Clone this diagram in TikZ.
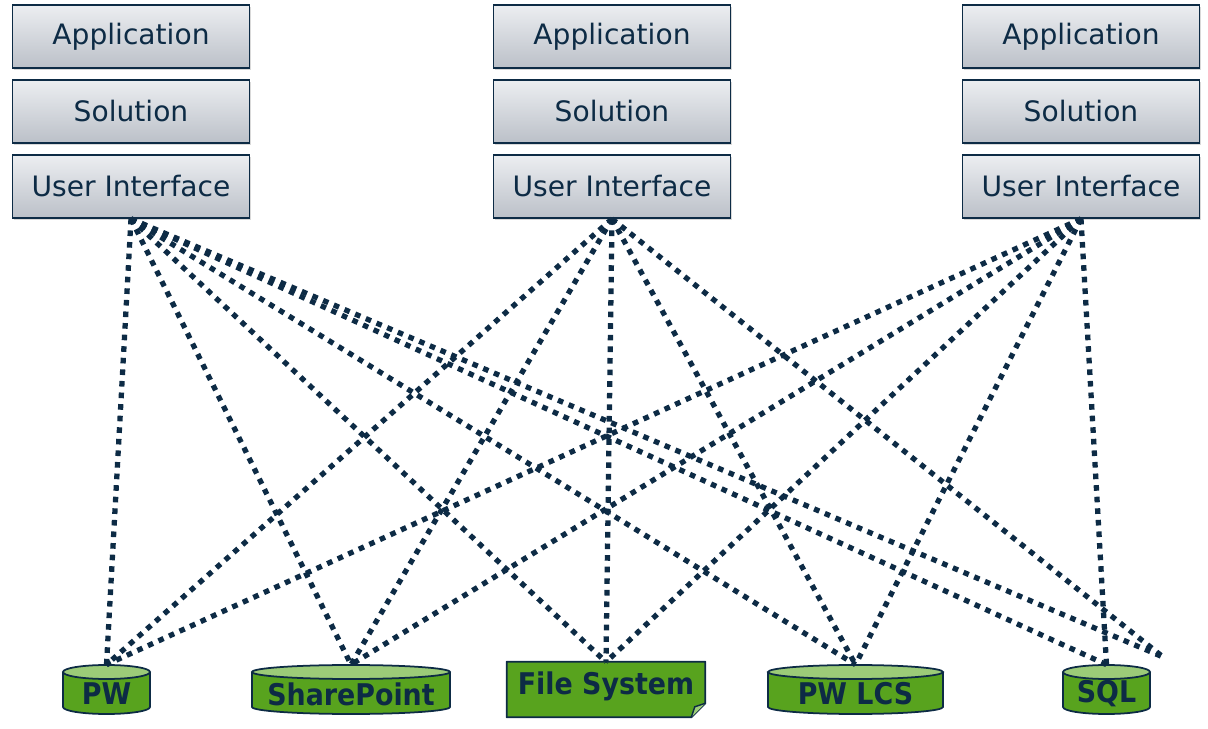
\documentclass[tikz,border=0pt]{standalone}
\usepackage{fontspec}
\setmainfont{DejaVu Sans}
\newfontfamily\cond{DejaVu Sans Condensed}
\usetikzlibrary{positioning, shapes.geometric, shadows}
\definecolor{navy}{HTML}{0D2B45}
\definecolor{leaf}{HTML}{58A31E}
\definecolor{leaflight}{HTML}{9CCB78}
\definecolor{paletop}{HTML}{ECEEF1}
\definecolor{palebot}{HTML}{BBC0C8}
\tikzset{
  layer/.style={draw=navy, line width=1pt, top color=paletop, bottom color=palebot,
    minimum width=4.74cm, minimum height=1.26cm, text=navy, font=\fontsize{16}{18}\selectfont,
    drop shadow={opacity=0.3, shadow xshift=1pt, shadow yshift=-1pt}},
  store/.style={minimum height=0.98cm, inner sep=0pt, text=navy,
    font=\cond\bfseries\fontsize{17}{19}\selectfont},
  link/.style={navy, line width=3pt, dash pattern=on 3.2pt off 3.4pt}
}
\begin{document}
\begin{tikzpicture}[x=0.02cm, y=-0.02cm]
  \useasboundingbox (0,0) rectangle (1208,729);
  % three stacks
  \foreach \n/\x in {l/131, m/612, r/1081} {
    \node [layer] (app\n) at (\x, 36.5) {Application};
    \node [layer] (sol\n) at (\x, 111.5) {Solution};
    \node [layer] (ui\n) at (\x, 186.5) {User Interface};
  }

  % data stores
  \foreach \s/\x/\w/\t in {pw/106.5/43.5/PW, sp/351/99/SharePoint, lcs/855.5/87.5/PW LCS, sql/1106.5/43.5/SQL} {
    \filldraw [fill=leaf, draw=navy, line width=1pt] (\x-\w, 672) -- (\x-\w, 707)
      arc [start angle=180, end angle=0, x radius=\w, y radius=7] -- (\x+\w, 672);
    \draw [fill=leaflight, draw=navy, line width=1pt] (\x, 672) ellipse [x radius=\w, y radius=7];
    \node [store, minimum width=2*\w*0.02cm, minimum height=0.98cm] (\s) at (\x, 689.5) {};
    \node [store] at (\x, 694) {\t};
  }
  \node [store, minimum width=3.96cm, minimum height=1.1cm] (fs) at (606, 689.5) {};
  \fill [leaf] (fs.north west) -- (fs.north east) -- ([yshift=8pt]fs.south east)
    -- ([xshift=-8pt]fs.south east) -- (fs.south west) -- cycle;
  \draw [navy, line width=1pt, line join=round] (fs.north west) -- (fs.north east)
    -- ([yshift=8pt]fs.south east) -- ([xshift=-8pt]fs.south east) -- (fs.south west) -- cycle;
  \draw [navy, line width=0.8pt, fill=leaflight] ([yshift=8pt]fs.south east) -- ([xshift=-6pt, yshift=6pt]fs.south east)
    -- ([xshift=-8pt]fs.south east);
  \node [store] at (606, 686) {File System};
  \coordinate (loose) at (1163, 657);
  \coordinate (fstop) at (606, 662);

  \foreach \s in {pw, sp, lcs, sql} \draw [link] (uil.south) -- (\s.north);
  \draw [link] (uil.south) -- (fstop);
  \draw [link] (uil.south) -- (loose);
  \foreach \s in {pw, sp, lcs} \draw [link] (uim.south) -- (\s.north);
  \draw [link] (uim.south) -- (fstop);
  \draw [link] (uim.south) -- (loose);
  \foreach \s in {pw, sp, lcs, sql} \draw [link] (uir.south) -- (\s.north);
  \draw [link] (uir.south) -- (fstop);
\end{tikzpicture}
\end{document}
